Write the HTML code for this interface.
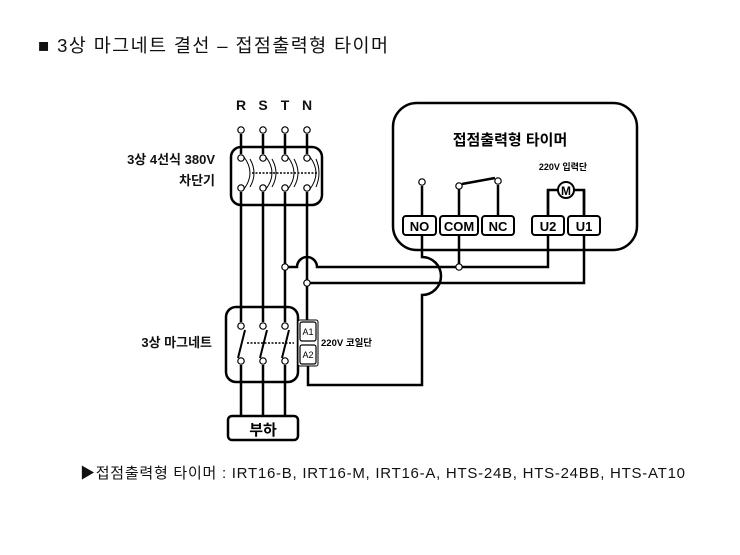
<!DOCTYPE html>
<html><head><meta charset="utf-8"><style>
body{margin:0;background:#fff;}
svg{display:block;font-family:"Liberation Sans","Noto Sans CJK KR",sans-serif;}
</style></head><body>
<svg width="740" height="555" viewBox="0 0 740 555" xmlns="http://www.w3.org/2000/svg">
<text x="38" y="52" font-size="18.5" fill="#111" textLength="350" lengthAdjust="spacing">■ 3상 마그네트 결선 – 접점출력형 타이머</text>

<g font-weight="bold" font-size="14" text-anchor="middle" fill="#111">
<text x="241" y="110">R</text><text x="263" y="110">S</text><text x="285" y="110">T</text><text x="307" y="110">N</text>
</g>
<g font-weight="bold" font-size="13" fill="#111" text-anchor="end">
<text x="215" y="164">3상 4선식 380V</text>
<text x="215" y="185">차단기</text>
<text x="212" y="347">3상 마그네트</text>
</g>

<g stroke="#000" stroke-width="2.5" fill="none">
<rect x="231" y="147" width="91" height="58" rx="10"/>
<rect x="226" y="307" width="72" height="75" rx="10"/>
<rect x="228" y="416" width="70" height="24" rx="4"/>
<rect x="393" y="103" width="244" height="147" rx="24"/>

<path d="M241 134V154M263 134V154M285 134V154M307 134V154"/>
<path d="M241 192V322M263 192V322M285 192V322M307 192V324"/>
<path d="M241 365V416M263 365V416M285 365V416"/>

<path d="M285 267H297A10 10 0 0 1 317 267H548V190H558"/>
<path d="M307 283H584V190H574"/>
<path d="M459 235V267"/>
<path d="M422 235V257A19 19 0 0 1 422 295V385H308V364"/>
<path d="M422 186V216M459 189V216M498 185V216M548 216V190M584 216V190"/>
<path d="M462 184L495 178"/>
</g>

<g stroke="#000" stroke-width="1" fill="none">
<path d="M244 157Q256 173 244 189M266 157Q278 173 266 189M288 157Q300 173 288 189M310 157Q322 173 310 189"/>
<path d="M250 159Q258 173 250 187M272 159Q280 173 272 187M294 159Q302 173 294 187M316 159Q322 173 316 187"/>
<path d="M252 173H318" stroke-dasharray="2 1.5" stroke-width="1.5"/>
<path d="M247 343H294" stroke-dasharray="2 1.5" stroke-width="1.5"/>
</g>
<g stroke="#000" stroke-width="2" fill="none">
<path d="M245 330L238 358M267 330L260 358M289 330L282 358"/>
</g>

<g fill="#fff" stroke="#000" stroke-width="1.2">
<circle cx="241" cy="130" r="3.2"/><circle cx="263" cy="130" r="3.2"/><circle cx="285" cy="130" r="3.2"/><circle cx="307" cy="130" r="3.2"/>
<circle cx="241" cy="158" r="3.2"/><circle cx="263" cy="158" r="3.2"/><circle cx="285" cy="158" r="3.2"/><circle cx="307" cy="158" r="3.2"/>
<circle cx="241" cy="188" r="3.2"/><circle cx="263" cy="188" r="3.2"/><circle cx="285" cy="188" r="3.2"/><circle cx="307" cy="188" r="3.2"/>
<circle cx="241" cy="326" r="3.2"/><circle cx="263" cy="326" r="3.2"/><circle cx="285" cy="326" r="3.2"/>
<circle cx="241" cy="361" r="3.2"/><circle cx="263" cy="361" r="3.2"/><circle cx="285" cy="361" r="3.2"/>
<circle cx="285" cy="267" r="3.2"/><circle cx="307" cy="283" r="3.2"/><circle cx="459" cy="267" r="3.2"/>
<circle cx="422" cy="182" r="3.2"/><circle cx="459" cy="186" r="3.2"/><circle cx="498" cy="181" r="3.2"/>
</g>
<circle cx="566" cy="190" r="8" fill="#fff" stroke="#000" stroke-width="2"/>
<text x="566" y="195" font-size="12" font-weight="bold" text-anchor="middle">M</text>

<rect x="298" y="320" width="20" height="46" rx="2" fill="#fff" stroke="#000" stroke-width="1"/>
<rect x="300" y="322" width="16" height="19" rx="2" fill="#fff" stroke="#000" stroke-width="1.2"/>
<rect x="300" y="345" width="16" height="19" rx="2" fill="#fff" stroke="#000" stroke-width="1.2"/>
<g font-size="9" text-anchor="middle"><text x="308" y="335">A1</text><text x="308" y="358">A2</text></g>
<text x="321" y="346" font-size="9.5" font-weight="bold">220V 코일단</text>

<g fill="#fff" stroke="#000" stroke-width="2">
<rect x="403" y="216" width="33" height="19" rx="3"/>
<rect x="440" y="216" width="38" height="19" rx="3"/>
<rect x="482" y="216" width="32" height="19" rx="3"/>
<rect x="532" y="216" width="32" height="19" rx="3"/>
<rect x="568" y="216" width="32" height="19" rx="3"/>
</g>
<g font-size="13" font-weight="bold" text-anchor="middle">
<text x="419.5" y="231">NO</text><text x="459" y="231">COM</text><text x="498" y="231">NC</text><text x="548" y="231">U2</text><text x="584" y="231">U1</text>
</g>
<text x="510" y="145" font-size="15" font-weight="bold" text-anchor="middle">접점출력형 타이머</text>
<text x="563" y="170" font-size="9" font-weight="bold" text-anchor="middle">220V 입력단</text>

<text x="263" y="435" font-size="15" font-weight="bold" text-anchor="middle">부하</text>

<text x="80" y="478" font-size="15" fill="#111" textLength="605" lengthAdjust="spacing">▶접점출력형 타이머 : IRT16-B, IRT16-M, IRT16-A, HTS-24B, HTS-24BB, HTS-AT10</text>
</svg>
</body></html>
